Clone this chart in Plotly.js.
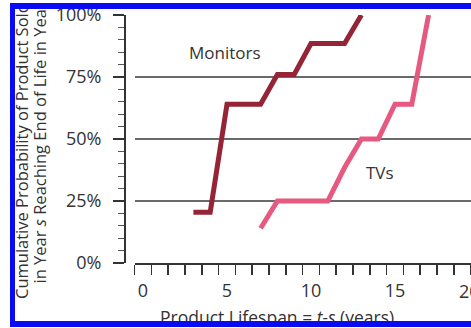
<!DOCTYPE html>
<html>
<head>
<meta charset="utf-8">
<script src="https://cdn.plot.ly/plotly-3.0.1.min.js"></script>
<style>
html,body{margin:0;padding:0;background:#fff;overflow:hidden;}
#wrap{position:relative;width:471px;height:328px;}
#chart{position:absolute;left:0;top:0;width:471px;height:328px;}
.fr{position:absolute;background:#0a0af5;}
.wh{position:absolute;background:#fff;}
</style>
</head>
<body>
<div id="wrap">
<div id="chart"></div>
<div class="wh" style="left:0;top:0;width:471px;height:3px;"></div>
<div class="fr" style="left:10px;top:3px;width:461px;height:6px;"></div>
<div class="wh" style="left:0;top:0;width:10px;height:328px;"></div>
<div class="fr" style="left:10px;top:3px;width:5px;height:324px;"></div>
<div class="fr" style="left:10px;top:321px;width:461px;height:6px;"></div>
<div class="wh" style="left:0;top:327px;width:471px;height:1px;"></div>
</div>
<script>
// Data
const monitorsX = [3, 4, 5, 7, 8, 9, 10, 12, 13];
const monitorsY = [20.5, 20.5, 64, 64, 76, 76, 88.5, 88.5, 100];
const tvsX = [7, 8, 11, 12, 13, 14, 15, 16, 17];
const tvsY = [14, 25, 25, 38.5, 50, 50, 64, 64, 100];
const xTickVals = [0, 5, 10, 15];
const xTickText = ['0', '5', '10', '15'];
const yTickVals = [0, 25, 50, 75, 100];
const yTickText = ['0%', '25%', '50%', '75%', '100%'];

const FONT = '"Open Sans", sans-serif';
const TXT = '#333333';

const traces = [
  {x: monitorsX, y: monitorsY, mode: 'lines', name: 'Monitors',
   line: {color: '#952536', width: 5}, hoverinfo: 'skip'},
  {x: tvsX, y: tvsY, mode: 'lines', name: 'TVs',
   line: {color: '#e65a82', width: 5}, hoverinfo: 'skip'}
];

const plotL = 124, plotR = 471, plotT = 15, plotB = 263;
const W = plotR - plotL, H = plotB - plotT;
const domStart = (134.6 - plotL) / W;

const layout = {
  width: 471, height: 328,
  margin: {l: plotL, r: 0, t: plotT, b: 328 - plotB, pad: 0, autoexpand: false},
  paper_bgcolor: '#fff', plot_bgcolor: '#fff',
  showlegend: false,
  font: {family: FONT, color: TXT},
  xaxis: {
    domain: [domStart, 1],
    range: [-0.5, -0.5 + (plotR - 134.6) / 16.8],
    showgrid: false, zeroline: false,
    showline: true, linecolor: '#333', linewidth: 1.5,
    tickvals: xTickVals, ticktext: xTickText,
    ticks: '', ticklabelstandoff: 11,
    tickfont: {family: FONT, size: 18, color: TXT},
    minor: {tick0: 0.5, dtick: 1, ticks: 'outside', ticklen: 10, tickwidth: 1.5, tickcolor: '#333', showgrid: false}
  },
  yaxis: {
    anchor: 'free', position: 0,
    range: [0, 100],
    showgrid: true, gridcolor: '#6a6a6a', gridwidth: 1.5,
    zeroline: false,
    showline: true, linecolor: '#333', linewidth: 1.5,
    tickvals: yTickVals, ticktext: yTickText,
    ticks: 'outside', ticklen: 11, tickwidth: 1.5, tickcolor: '#333',
    ticklabelstandoff: 8,
    tickfont: {family: FONT, size: 18, color: TXT},
    minor: {dtick: 5, ticks: 'outside', ticklen: 6, tickwidth: 1, tickcolor: '#555', showgrid: false}
  },
  annotations: [
    {x: 4.9, y: 84.7, xref: 'x', yref: 'y', text: 'Monitors', showarrow: false,
     font: {family: FONT, size: 17, color: TXT}},
    {x: 14.1, y: 36.3, xref: 'x', yref: 'y', text: 'TVs', showarrow: false,
     font: {family: FONT, size: 17, color: TXT}},
    {x: (469 - plotL) / W, y: (plotB - 290.5) / H, xref: 'paper', yref: 'paper',
     xanchor: 'center', yanchor: 'middle', text: '20', showarrow: false,
     font: {family: FONT, size: 18, color: TXT}},
    {x: (277 - plotL) / W, y: (plotB - 317) / H, xref: 'paper', yref: 'paper',
     xanchor: 'center', yanchor: 'middle',
     text: 'Product Lifespan = <i>t-s</i> (years)', showarrow: false,
     font: {family: FONT, size: 17.5, color: TXT}},
    {x: (21 - plotL) / W, y: (plotB - 301) / H, xref: 'paper', yref: 'paper',
     xanchor: 'center', yanchor: 'bottom',
     text: 'Cumulative Probability of Product Sold', textangle: -90, showarrow: false,
     font: {family: FONT, size: 16.5, color: TXT}},
    {x: (39 - plotL) / W, y: (plotB - 286) / H, xref: 'paper', yref: 'paper',
     xanchor: 'center', yanchor: 'bottom',
     text: 'in Year <i>s</i> Reaching End of Life in Year <i>t</i>', textangle: -90, showarrow: false,
     font: {family: FONT, size: 16.5, color: TXT}}
  ]
};

Plotly.newPlot('chart', traces, layout, {displayModeBar: false, staticPlot: true});
</script>
</body>
</html>
